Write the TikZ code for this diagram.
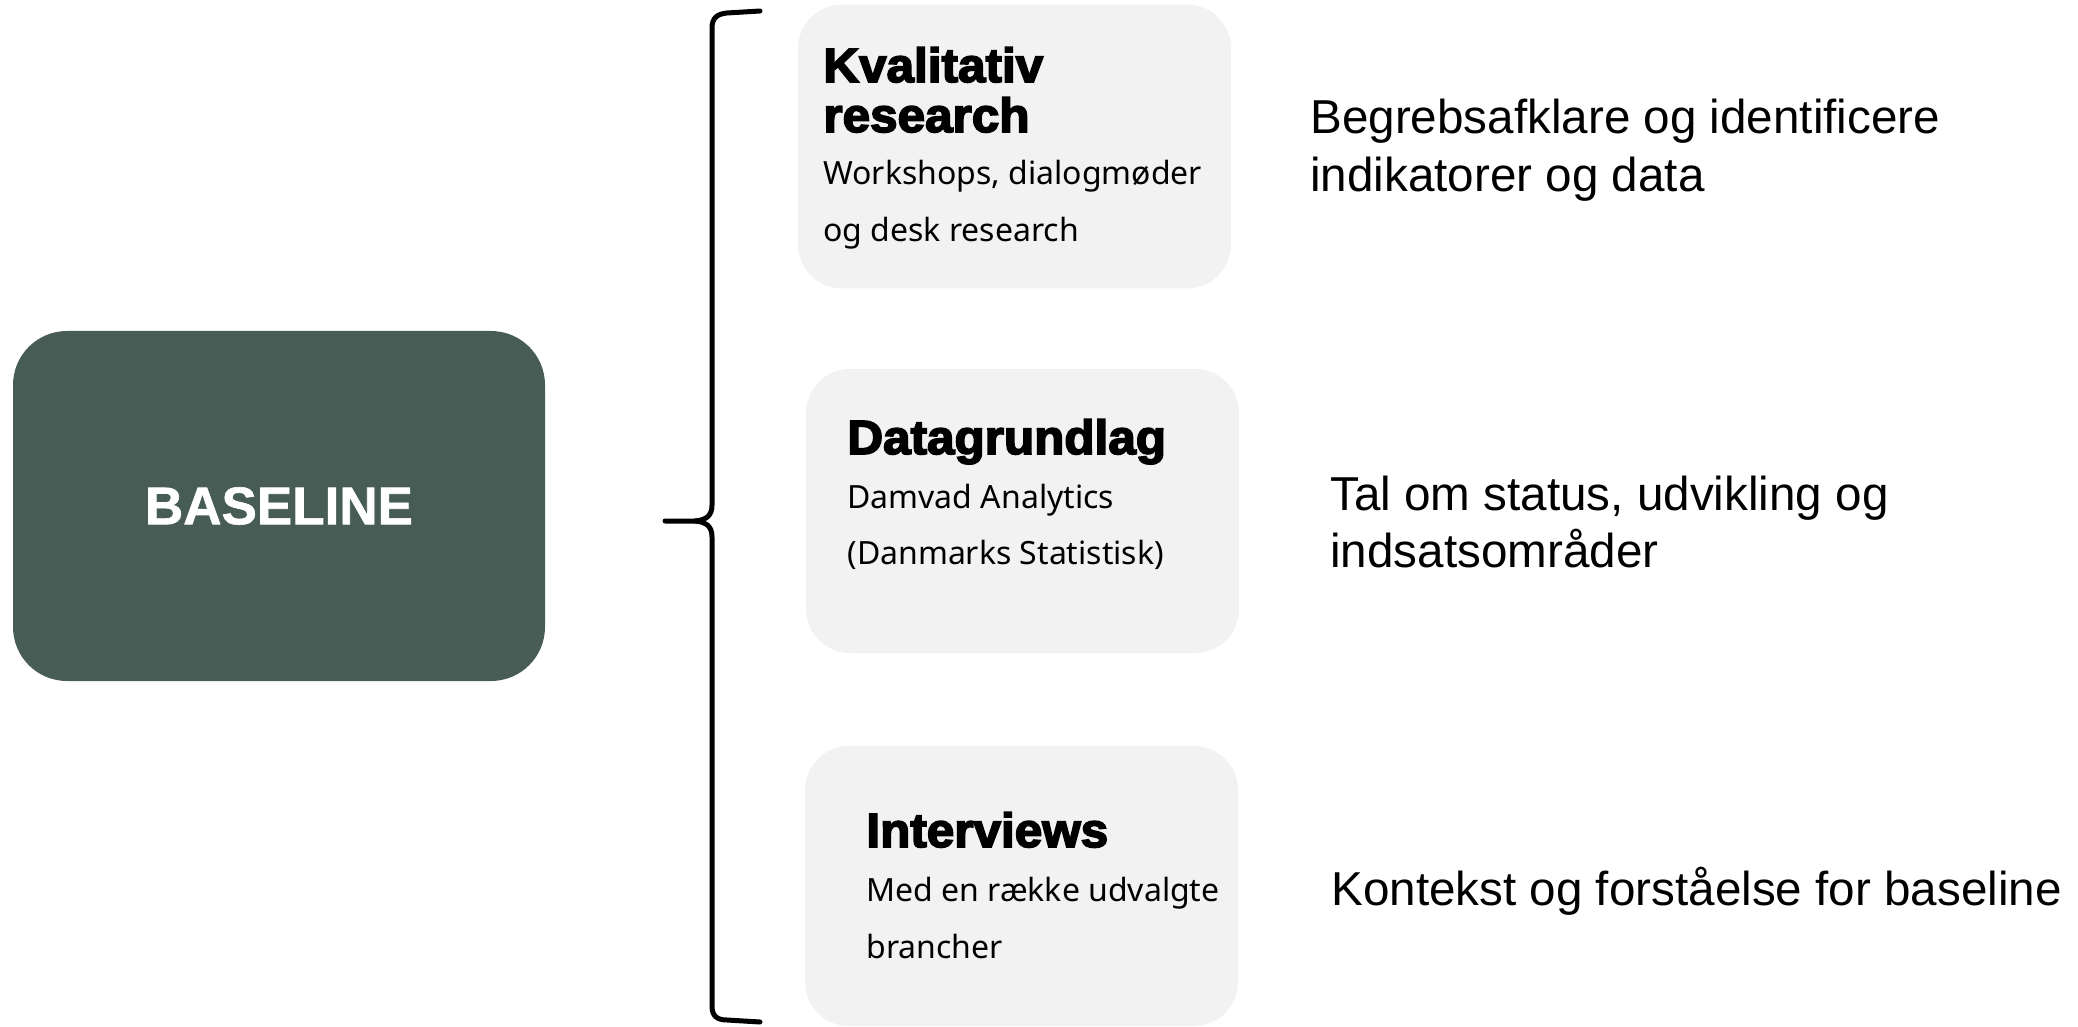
\documentclass[tikz,border=0pt]{standalone}
\usepackage{fontspec}
\setmainfont{Liberation Sans}
\newfontfamily\bodyfont{Noto Sans}
\newfontfamily\titlefont[FakeBold=3.5,FakeStretch=1.03]{Liberation Sans Bold}
\newfontfamily\basefont[FakeBold=1.2]{Liberation Sans Bold}
\definecolor{basegreen}{HTML}{475C55}
\definecolor{boxgray}{HTML}{F2F2F2}
\begin{document}
\begin{tikzpicture}[x=0.5pt,y=-0.5pt,
  graybox/.style={fill=boxgray, rounded corners=22pt, minimum width=216.5pt, minimum height=142pt, inner sep=0pt},
  basebox/.style={fill=basegreen, rounded corners=27pt, minimum width=266pt, minimum height=175pt, inner sep=0pt, text=white, font=\basefont\fontsize{26.5}{30}\selectfont},
  ttl/.style={anchor=base west, inner sep=0pt, font=\titlefont\fontsize{24}{28}\selectfont},
  body/.style={anchor=base west, inner sep=0pt, font=\bodyfont\fontsize{16}{19}\selectfont},
  note/.style={anchor=base west, inner sep=0pt, font=\fontsize{23.8}{28}\selectfont},
  brace/.style={draw=black, line width=2.5pt, line cap=round, line join=round}
]
\useasboundingbox (0,0) rectangle (2078,1027);

% main box
\node[basebox] (base) at (279,506) {BASELINE};

% grey boxes
\node[graybox] (box1) at (1014.5,146.5) {};
\node[graybox] (box2) at (1022.5,511) {};
\node[graybox, minimum height=140pt] (box3) at (1021.5,886) {};

% brace
\coordinate (btop) at (760,11);
\coordinate (bmid) at (665,521);
\coordinate (bbot) at (760,1022);
\draw[brace] (btop) -- (727,13) .. controls (717,14) and (712,18) .. (712,28)
  -- (712,505) .. controls (712,515) and (707,520) .. (695,521) -- (bmid);
\draw[brace] (695,521) .. controls (707,522) and (712,527) .. (712,537)
  -- (712,1006) .. controls (712,1016) and (717,1020) .. (727,1020) -- (bbot);

% box 1 text
\node[ttl] (t1a) at (823,82) {Kvalitativ};
\node[ttl] (t1b) at (823,132) {research};
\node[body] (b1a) at (823,185) {Workshops, dialogmøder};
\node[body] (b1b) at (823,242) {og desk research};

% box 2 text
\node[ttl] (t2) at (847,454) {Datagrundlag};
\node[body] (b2a) at (847,508) {Damvad Analytics};
\node[body] (b2b) at (847,564) {(Danmarks Statistisk)};

% box 3 text
\node[ttl] (t3) at (866,847) {Interviews};
\node[body] (b3a) at (866,901) {Med en række udvalgte};
\node[body] (b3b) at (866,958) {brancher};

% right notes
\node[note] (n1a) at (1310,134) {Begrebsafklare og identificere};
\node[note] (n1b) at (1310,192) {indikatorer og data};
\node[note] (n2a) at (1330,510) {Tal om status, udvikling og};
\node[note] (n2b) at (1330,567) {indsatsområder};
\node[note] (n3) at (1331,905) {Kontekst og forståelse for baseline};
\end{tikzpicture}
\end{document}
